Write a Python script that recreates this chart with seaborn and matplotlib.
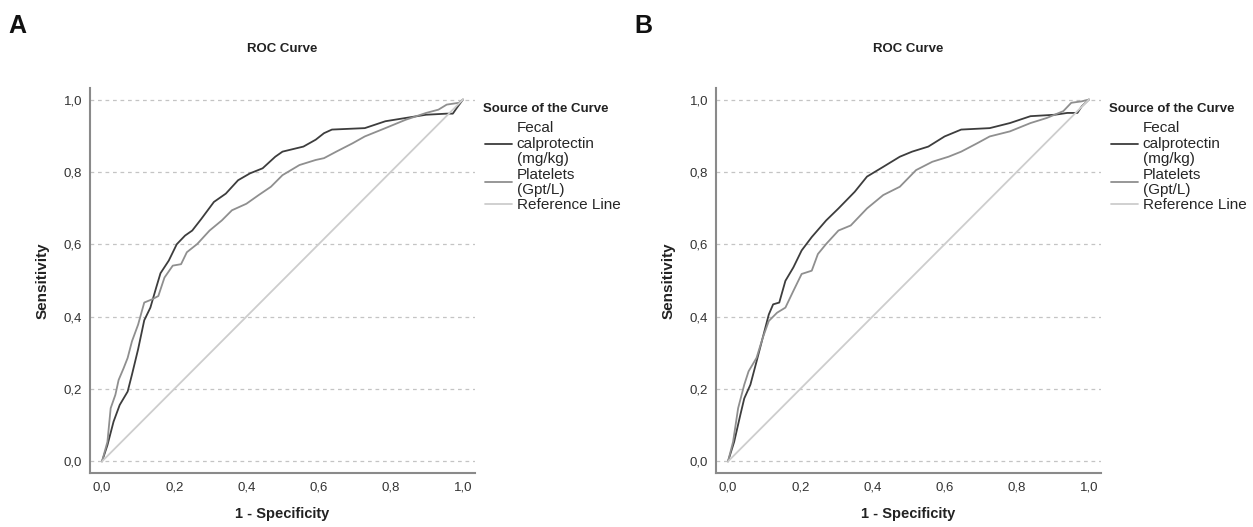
"""
ROC curves for fecal calprotectin and platelets (panels A and B).
"""

import matplotlib
matplotlib.use('Agg')
import matplotlib.pyplot as plt
import seaborn as sns
import pandas as pd

# Panel A
fpr_fecal_a = [0, .015, .032, .049, .071, .083, .10, .117, .134, .15, .162, .185, .207, .23, .25, .275,
               .31, .343, .377, .41, .445, .48, .50, .558, .592, .615, .637, .728, .785, .841, .898,
               .955, .972, .983, 1.0]
tpr_fecal_a = [0, .045, .11, .156, .193, .24, .31, .39, .425, .48, .52, .555, .60, .624, .638, .67,
               .717, .74, .777, .796, .81, .842, .856, .87, .889, .907, .917, .921, .94, .949, .958,
               .961, .961, .977, 1.0]
fpr_plt_a = [0, .015, .024, .037, .046, .06, .071, .083, .10, .117, .139, .156, .173, .196, .219, .235,
             .264, .298, .332, .36, .40, .434, .468, .50, .547, .592, .615, .649, .694, .728, .785,
             .841, .898, .932, .955, .989, 1.0]
tpr_plt_a = [0, .054, .147, .184, .225, .258, .286, .332, .378, .439, .448, .457, .508, .541, .545, .578,
             .601, .638, .666, .694, .712, .736, .759, .791, .819, .833, .838, .856, .879, .898, .921,
             .944, .963, .972, .986, .991, 1.0]

# Panel B
fpr_fecal_b = [0, .017, .034, .045, .062, .079, .096, .113, .125, .142, .159, .181, .204, .232, .272,
               .306, .351, .385, .43, .476, .51, .555, .60, .646, .725, .781, .838, .906, .94, .968,
               .98, 1.0]
tpr_fecal_b = [0, .054, .128, .174, .212, .276, .341, .406, .434, .439, .499, .536, .583, .62, .666,
               .699, .745, .787, .814, .842, .856, .87, .898, .917, .921, .935, .954, .958, .963, .963,
               .981, 1.0]
fpr_plt_b = [0, .014, .028, .045, .057, .079, .096, .113, .136, .159, .181, .204, .232, .249, .272,
             .306, .34, .385, .43, .476, .521, .566, .611, .646, .69, .725, .781, .838, .883, .929,
             .951, .98, 1.0]
tpr_plt_b = [0, .054, .147, .212, .249, .286, .341, .388, .411, .425, .471, .518, .527, .573, .601,
             .638, .652, .699, .736, .759, .805, .828, .842, .856, .879, .898, .912, .935, .949, .968,
             .991, .995, 1.0]

ref_x = [0, 1]
ref_y = [0, 1]

labels = ['Fecal\ncalprotectin\n(mg/kg)', 'Platelets\n(Gpt/L)', 'Reference Line']
colors = ['#3d3d3d', '#8f8f8f', '#cdcdcd']
ticks = [0, 0.2, 0.4, 0.6, 0.8, 1.0]
tick_labels = ['0,0', '0,2', '0,4', '0,6', '0,8', '1,0']

sns.set_theme(style='white')
plt.rcParams['font.family'] = ['Liberation Sans', 'DejaVu Sans']


def make_frame(fx, fy, px, py):
    parts = []
    for x, y, name in [(fx, fy, labels[0]), (px, py, labels[1]), (ref_x, ref_y, labels[2])]:
        parts.append(pd.DataFrame({'fpr': x, 'tpr': y, 'source': name}))
    return pd.concat(parts, ignore_index=True)


fig = plt.figure(figsize=(12.53, 5.27), dpi=100)
panels = [
    ('A', make_frame(fpr_fecal_a, tpr_fecal_a, fpr_plt_a, tpr_plt_a), 0.0722),
    ('B', make_frame(fpr_fecal_b, tpr_fecal_b, fpr_plt_b, tpr_plt_b), 0.5718),
]

for letter, df, left in panels:
    ax = fig.add_axes([left, 0.1025, 0.3065, 0.7306])
    sns.lineplot(data=df, x='fpr', y='tpr', hue='source', hue_order=labels,
                 palette=colors, estimator=None, sort=False, linewidth=1.3, ax=ax)

    ax.set_xlim(-0.032, 1.032)
    ax.set_ylim(-0.032, 1.032)
    ax.set_xticks(ticks)
    ax.set_xticklabels(tick_labels)
    ax.set_yticks(ticks)
    ax.set_yticklabels(tick_labels)
    ax.tick_params(length=0, labelsize=9.5, colors='#333333', pad=6)

    for y in ticks:
        ax.axhline(y, color='#c4c4c4', linestyle=(0, (3, 3)), linewidth=0.9, zorder=0)

    for side in ['top', 'right']:
        ax.spines[side].set_visible(False)
    for side in ['left', 'bottom']:
        ax.spines[side].set_color('#8a8a8a')
        ax.spines[side].set_linewidth(1.5)

    ax.set_title('ROC Curve', fontsize=9.5, fontweight='bold', pad=26, color='#222222')
    ax.set_xlabel('1 - Specificity', fontsize=10.5, fontweight='bold', labelpad=10, color='#222222')
    ax.set_ylabel('Sensitivity', fontsize=11, fontweight='bold', labelpad=10, color='#222222')

    # legend: title as separate text so the gap above the entries can be matched
    handles, hl = ax.get_legend_handles_labels()
    ax.get_legend().remove()
    leg = ax.legend(handles, hl, loc='upper left',
                    bbox_to_anchor=(left + 0.3065 + 0.002, 0.784), bbox_transform=fig.transFigure,
                    frameon=False, fontsize=11, borderpad=0, labelspacing=0.1,
                    handlelength=1.8, handletextpad=0.3)
    for t in leg.get_texts():
        t.set_linespacing(1.12)
    fig.text(left + 0.3133, 0.794, 'Source of the Curve', fontsize=9.5, fontweight='bold',
             ha='left', va='center', color='#222222')

    fig.text(left - 0.058, 0.95, letter, fontsize=18, fontweight='bold', ha='center', va='center',
             color='#111111')

fig.savefig('out.png', dpi=100)
